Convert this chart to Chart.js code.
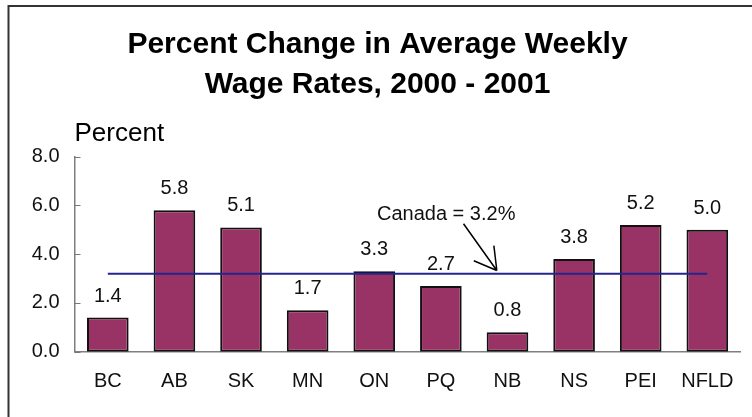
<!DOCTYPE html>
<html>
<head>
<meta charset="utf-8">
<script src="https://cdn.jsdelivr.net/npm/chart.js@4.4.0/dist/chart.umd.min.js"></script>
<style>
  body { margin: 0; background: #fff; }
  canvas { display: block; }
</style>
</head>
<body>
<canvas id="myChart" width="752" height="417"></canvas>
<script>
var provinces = ['BC', 'AB', 'SK', 'MN', 'ON', 'PQ', 'NB', 'NS', 'PEI', 'NFLD'];
var wageChange = [1.4, 5.8, 5.1, 1.7, 3.3, 2.7, 0.8, 3.8, 5.2, 5.0];
var canadaLine = [3.2, 3.2, 3.2, 3.2, 3.2, 3.2, 3.2, 3.2, 3.2, 3.2];
var canadaLabel = 'Canada = 3.2%';
var yTickLabels = ['0.0', '2.0', '4.0', '6.0', '8.0'];

var fam = '"Liberation Sans", Arial, sans-serif';
var labelFont = '20px ' + fam;

// frame round the whole chart (only left and top show in the picture)
var framePlugin = {
  id: 'frame',
  beforeDraw: function(chart) {
    var c = chart.ctx;
    c.save();
    c.strokeStyle = '#333';
    c.lineWidth = 2;
    c.strokeRect(8.5, 6, 800, 500);
    c.restore();
  }
};

// small tick marks pointing into the plot, value labels, Canada note
var extrasPlugin = {
  id: 'extras',
  afterDatasetsDraw: function(chart) {
    var c = chart.ctx;
    var x = chart.scales.x, y = chart.scales.y;
    c.save();

    c.strokeStyle = '#777';
    c.lineWidth = 1;
    y.ticks.forEach(function(t) {
      var py = Math.round(y.getPixelForValue(t.value)) + 0.5;
      c.beginPath();
      c.moveTo(x.left, py);
      c.lineTo(x.left + 6, py);
      c.stroke();
    });

    c.fillStyle = '#111';
    c.font = labelFont;
    c.textAlign = 'center';
    c.textBaseline = 'alphabetic';
    chart.getDatasetMeta(0).data.forEach(function(bar, i) {
      c.fillText(wageChange[i].toFixed(1), bar.x, bar.y - 16);
    });

    // note with arrow, placed in data units
    c.font = '20px ' + fam;
    c.fillText(canadaLabel, x.getPixelForValue(5.08), y.getPixelForValue(5.4));
    var x0 = x.getPixelForValue(5.34), y0 = y.getPixelForValue(5.25);
    var x1 = x.getPixelForValue(5.84), y1 = y.getPixelForValue(3.33);
    c.strokeStyle = '#000';
    c.lineWidth = 1.5;
    c.beginPath();
    c.moveTo(x0, y0);
    c.lineTo(x1, y1);
    var ang = Math.atan2(y1 - y0, x1 - x0);
    var len = 25;
    [-0.55, 0.5].forEach(function(d) {
      c.moveTo(x1, y1);
      c.lineTo(x1 - len * Math.cos(ang + d), y1 - len * Math.sin(ang + d));
    });
    c.stroke();
    c.restore();
  }
};

var ctx = document.getElementById('myChart').getContext('2d');
var chart = new Chart(ctx, {
  type: 'bar',
  data: {
    labels: provinces,
    datasets: [{
      type: 'bar',
      data: wageChange,
      backgroundColor: '#993366',
      borderColor: '#111',
      borderWidth: 2,
      borderSkipped: false,
      categoryPercentage: 1,
      barPercentage: 0.625,
      order: 2
    }, {
      type: 'line',
      data: canadaLine,
      borderColor: '#25258f',
      borderWidth: 2,
      pointRadius: 0,
      fill: false,
      order: 1
    }]
  },
  options: {
    responsive: false,
    animation: false,
    layout: { padding: { left: 8, right: 5, top: 0, bottom: 0 } },
    plugins: {
      legend: { display: false },
      tooltip: { enabled: false },
      title: {
        display: true,
        text: ['Percent Change in Average Weekly', 'Wage Rates, 2000 - 2001'],
        color: '#000',
        font: { family: fam, size: 30, weight: 'bold', lineHeight: '39.5px' },
        padding: { top: 25, bottom: 0 }
      },
      subtitle: {
        display: true,
        text: 'Percent',
        align: 'start',
        fullSize: false,
        color: '#000',
        font: { family: fam, size: 26, lineHeight: '30px' },
        padding: { top: 15, bottom: 7.7 }
      }
    },
    scales: {
      x: {
        grid: { display: false, drawTicks: false, tickLength: 0 },
        border: { display: true, color: '#7f7f7f', width: 1.5 },
        ticks: { color: '#111', font: { family: fam, size: 20 }, padding: 18 },
        afterFit: function(s) { s.height = 65.3; }
      },
      y: {
        min: 0,
        max: 8,
        grid: { display: false, drawTicks: false, tickLength: 0 },
        border: { display: true, color: '#7f7f7f', width: 1.5 },
        ticks: {
          stepSize: 2,
          color: '#111',
          font: { family: fam, size: 20 },
          padding: 15,
          callback: function(v, i) { return yTickLabels[i]; }
        },
        afterFit: function(s) { s.width = 66.5; }
      }
    }
  },
  plugins: [framePlugin, extrasPlugin]
});
</script>
</body>
</html>
